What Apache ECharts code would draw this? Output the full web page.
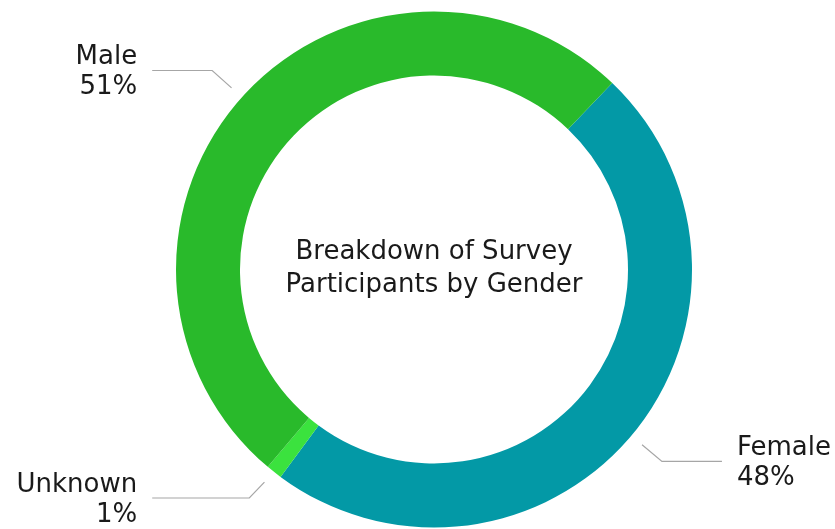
<!DOCTYPE html>
<html>
<head>
<meta charset="utf-8">
<script src="https://cdn.jsdelivr.net/npm/echarts@6/dist/echarts.min.js"></script>
<style>
  html, body { margin: 0; padding: 0; background: #fff; }
  #chart { width: 835px; height: 529px; }
</style>
</head>
<body>
<div id="chart"></div>
<script>
// Survey participants by gender (percent of respondents)
const categories = ['Female', 'Unknown', 'Male'];
const shares = [48, 1, 51];
const colors = ['#0399A6', '#3BE23E', '#29BA2B'];
const centerTitle = 'Breakdown of Survey\nParticipants by Gender';

const FONT = '"DejaVu Sans", Inter, sans-serif';
const chart = echarts.init(document.getElementById('chart'), null, { renderer: 'canvas' });

const data = categories.map((name, i) => ({
  name: name,
  value: shares[i],
  itemStyle: { color: colors[i] }
}));

// gap between the ring and the start of each leader line
const LINE_GAP = 14;

chart.setOption({
  animation: false,
  backgroundColor: '#ffffff',
  graphic: [{
    type: 'text',
    style: {
      text: centerTitle,
      x: 434,
      y: 268.5,
      align: 'center',
      verticalAlign: 'middle',
      font: '400 26px ' + FONT,
      lineHeight: 33,
      fill: '#1a1a1a'
    }
  }],
  series: [{
    type: 'pie',
    center: [434, 269.5],
    radius: [194, 258],
    startAngle: 46.3,
    clockwise: true,
    avoidLabelOverlap: true,
    data: data,
    itemStyle: { borderWidth: 0 },
    emphasis: { disabled: true },
    label: {
      show: true,
      formatter: p => p.name + '\n' + p.value + '%',
      fontFamily: FONT,
      fontSize: 26,
      lineHeight: 30,
      color: '#1a1a1a',
      overflow: 'none',
      alignTo: 'labelLine',
      distanceToLabelLine: 15
    },
    labelLine: {
      show: true,
      length: 40,
      length2: 60,
      lineStyle: { color: '#a6a6a6', width: 1.2 }
    },
    labelLayout: function (params) {
      const pts = params.labelLinePoints;
      if (!pts) return {};
      const p0 = pts[0], p1 = pts[1];
      const dx = p1[0] - p0[0], dy = p1[1] - p0[1];
      const len = Math.sqrt(dx * dx + dy * dy) || 1;
      const moved = [p0[0] + dx / len * LINE_GAP, p0[1] + dy / len * LINE_GAP];
      // nudge the two-line text so its middle sits on the leader line
      return { dy: 2, labelLinePoints: [moved, pts[1], pts[2]] };
    }
  }]
});
</script>
</body>
</html>
